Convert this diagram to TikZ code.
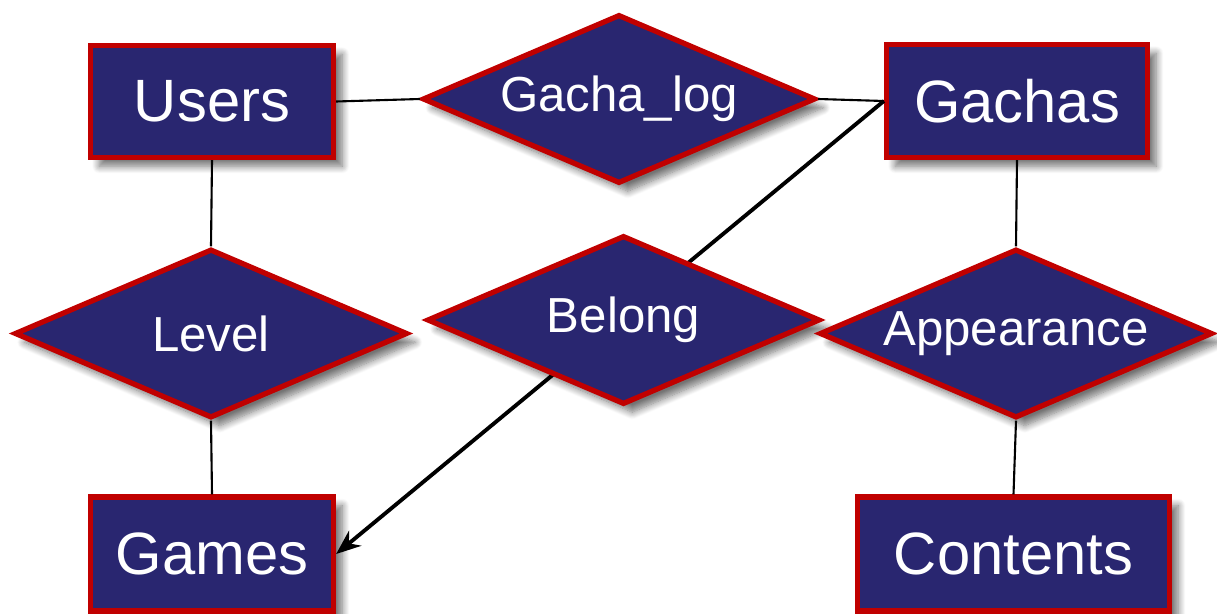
\documentclass[tikz,border=0pt]{standalone}
\usepackage{fontspec}
\setmainfont{Liberation Sans}
\usepackage{tikz}
\usetikzlibrary{shapes.geometric, arrows.meta, shadows.blur}
\definecolor{ernavy}{RGB}{41,38,112}
\definecolor{erred}{RGB}{192,0,0}

\begin{document}
\begin{tikzpicture}[
    entity/.style={draw=erred, line width=3pt, fill=ernavy, rectangle, inner sep=0pt,
        text=white, font=\fontsize{34}{40}\selectfont,
        blur shadow={shadow xshift=5pt, shadow yshift=-5pt, shadow blur radius=4pt,
            shadow blur steps=10, shadow opacity=55}},
    relation/.style={draw=erred, line width=3pt, fill=ernavy, diamond, inner sep=0pt,
        shape aspect=2.29, minimum width=7.86cm, minimum height=3.38cm,
        text=white, font=\fontsize{28}{32}\selectfont,
        blur shadow={shadow xshift=5pt, shadow yshift=-5pt, shadow blur radius=4pt,
            shadow blur steps=10, shadow opacity=55}},
    link/.style={line width=1.2pt, black}
]
    \useasboundingbox (0,0) rectangle (24.34,12.26);

    % Entities
    \node[entity, minimum width=4.86cm, minimum height=2.24cm] (users) at (4.24,10.23) {Users};
    \node[entity, minimum width=5.22cm, minimum height=2.26cm] (gachas) at (20.34,10.24) {Gachas};
    \node[entity, minimum width=4.86cm, minimum height=2.28cm] (games) at (4.24,1.18) {Games};
    \node[entity, minimum width=6.24cm, minimum height=2.28cm] (contents) at (20.27,1.18) {Contents};

    % Arrow behind the Belong diamond
    \draw[line width=2.2pt, -{Stealth[length=14pt, width=11pt]}] (gachas.west) -- (games.east);

    % Relations
    \node[relation] (gachalog) at (12.38,10.28) {Gacha\_log};
    \node[relation] (level) at (4.22,5.59) {Level};
    \node[relation] (belong) at (12.47,5.86) {Belong};
    \node[relation] (appearance) at (20.32,5.59) {Appearance};

    % Links
    \draw[link] (users.east) -- (gachalog.west);
    \draw[link] (gachalog.east) -- (gachas.west);
    \draw[link] (users.south) -- (level.north);
    \draw[link] (level.south) -- (games.north);
    \draw[link] (gachas.south) -- (appearance.north);
    \draw[link] (appearance.south) -- (contents.north);
\end{tikzpicture}
\end{document}
